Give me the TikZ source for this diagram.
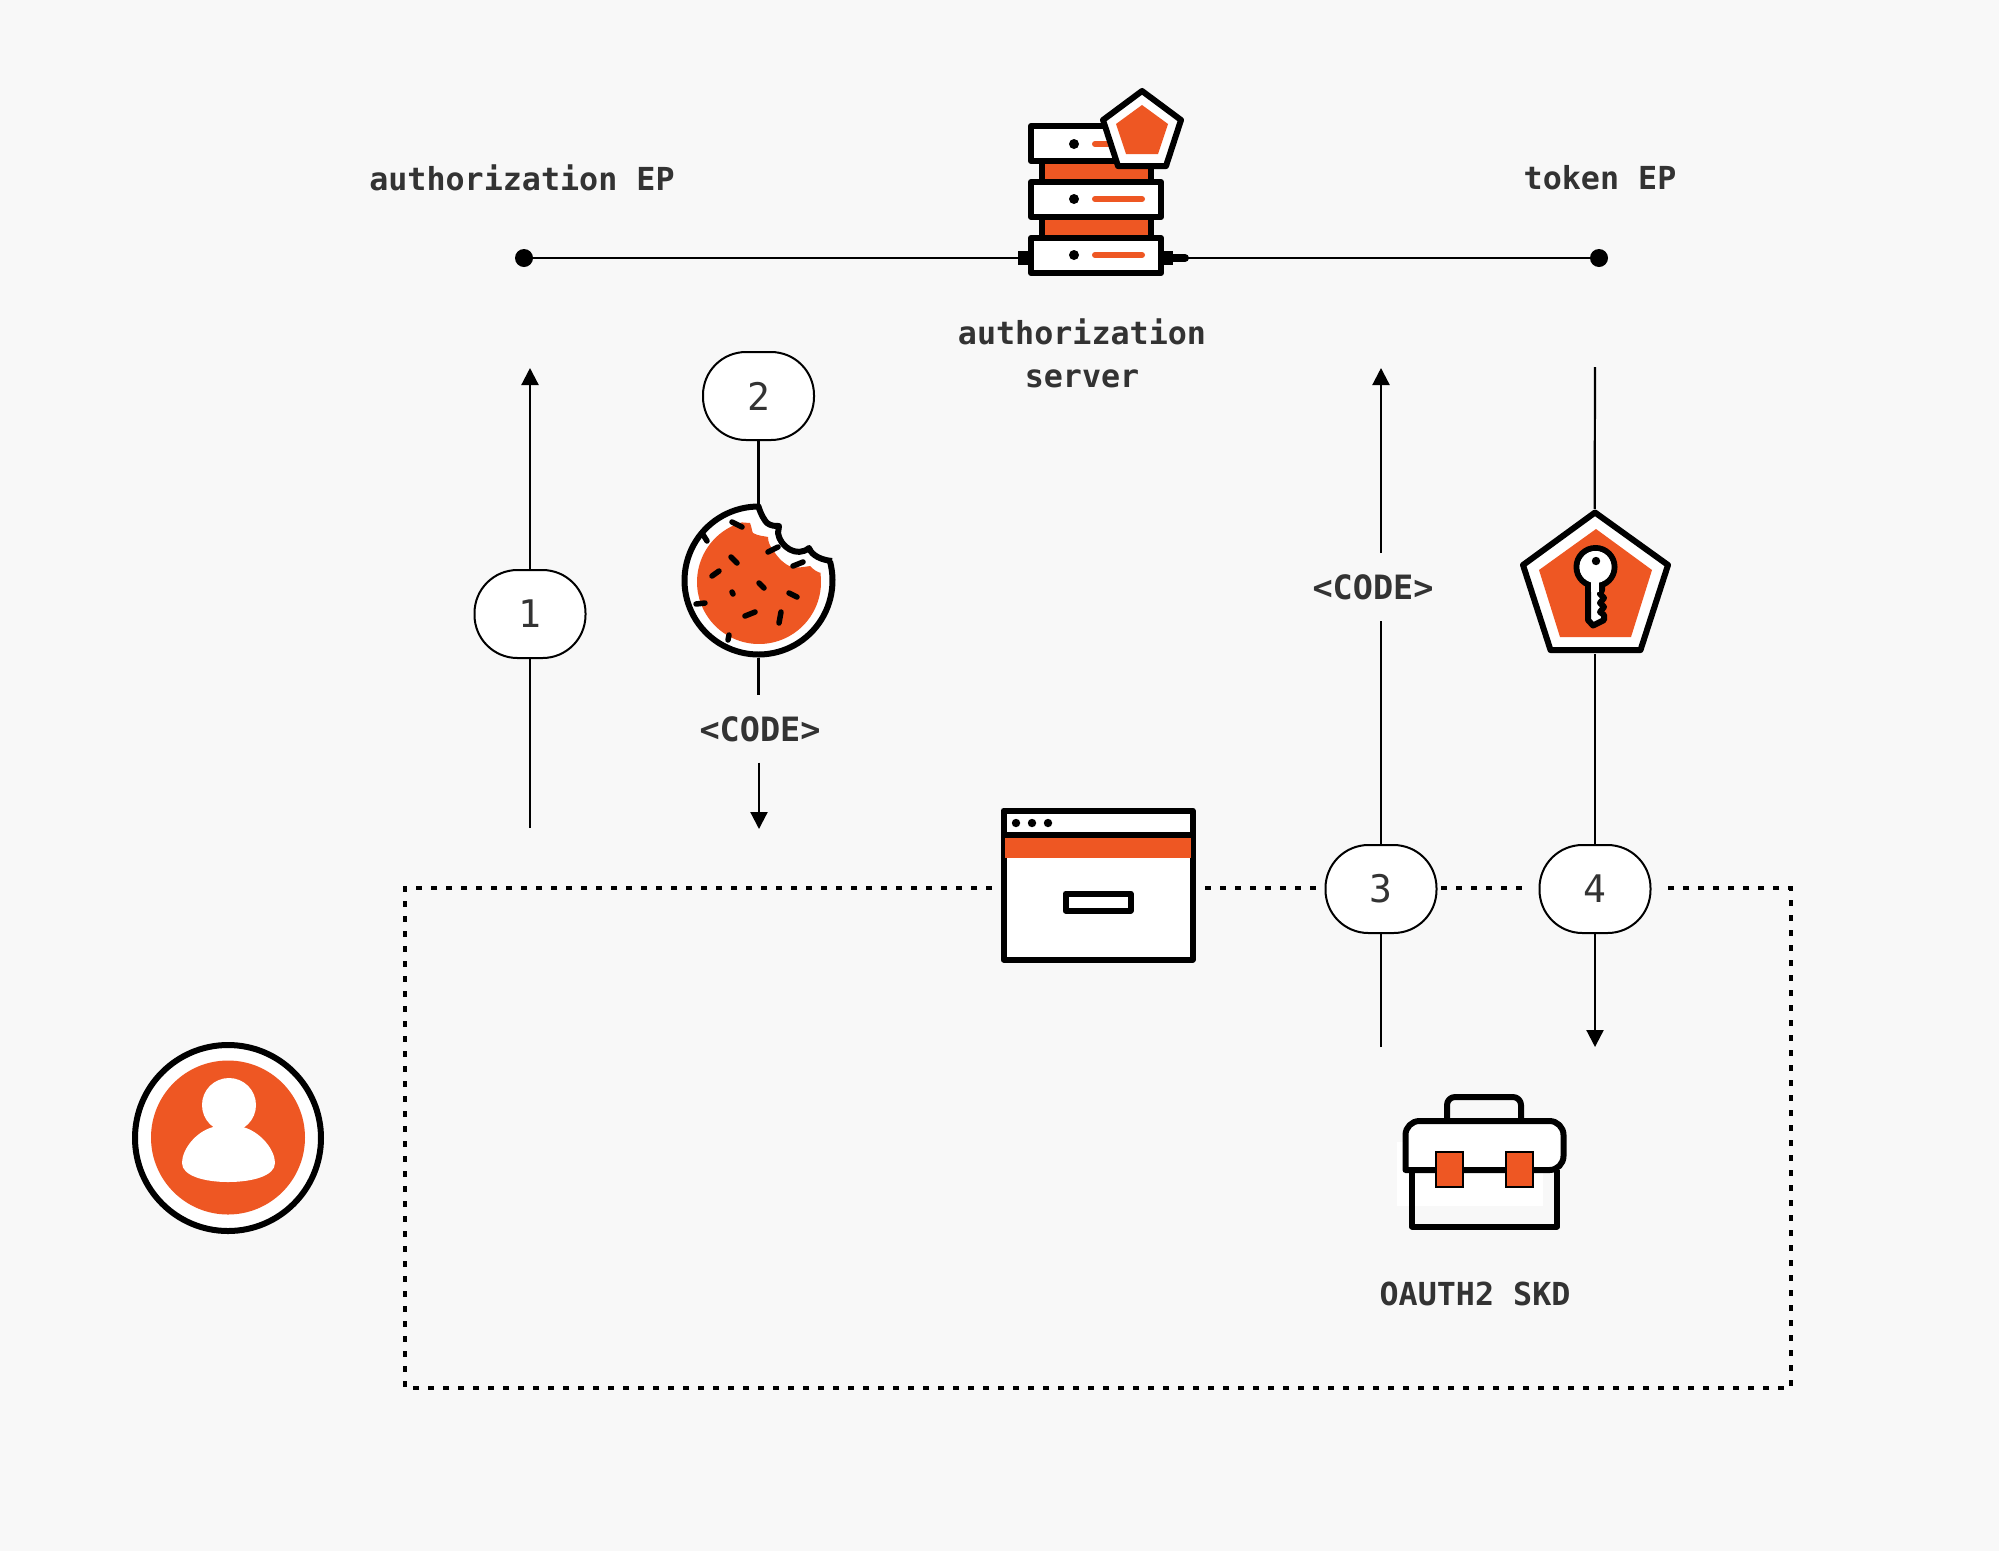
\documentclass[tikz,border=0pt]{standalone}
\usepackage{fontspec}
\usetikzlibrary{arrows.meta}
\newfontfamily\monofont{DejaVu Sans Mono}
\definecolor{bggray}{HTML}{F8F8F8}
\definecolor{oauthorange}{HTML}{EE5723}
\definecolor{textgray}{HTML}{333333}
\tikzset{
  iconline/.style={draw=black,line width=6pt,line join=round},
  flowline/.style={draw=black,line width=2.2pt},
  flowarrow/.style={flowline,-{Triangle[length=17pt,width=17pt]}},
  stepnode/.style={draw=black,line width=2pt,fill=white,rounded corners=43pt,minimum width=111pt,minimum height=88pt,inner sep=0pt,text=textgray,font=\monofont\fontsize{38}{44}\selectfont},
  textnode/.style={inner sep=0pt,text=textgray,align=center,font=\monofont\bfseries\fontsize{31.7}{43}\selectfont},
  codenode/.style={textnode,minimum height=67pt,font=\monofont\bfseries\fontsize{33.5}{43}\selectfont},
  epdot/.style={circle,fill=black,inner sep=0pt,minimum size=18pt},
  iconbox/.style={inner sep=0pt},
  sprinkle/.style={draw=black,line width=5.5pt,line cap=round},
  dotline/.style={draw=black,line width=3.5pt,dash pattern=on 6pt off 9pt},
}
\begin{document}
\begin{tikzpicture}[x=1pt,y=-1pt]
  \useasboundingbox (0,0) rectangle (1999,1551);
  \fill[bggray] (0,0) rectangle (1999,1551);

  \node[textnode] (authlabel) at (522,178) {authorization EP};
  \node[textnode] (tokenlabel) at (1600,178) {token EP};
  \node[textnode] (serverlabel) at (1082,353) {authorization\\server};
  \node[textnode] (sdklabel) at (1475,1294) {OAUTH2 SKD};
  \node[epdot] (authep) at (524,258) {};
  \node[epdot] (tokenep) at (1599,258) {};

  % server
  \coordinate (serverleft) at (1018,258);
  \coordinate (serverright) at (1188,258);
  \draw[flowline] (authep) -- (serverleft);
  \draw[flowline] (serverright) -- (tokenep);
  \fill[black] (1018,251) rectangle (1028,265);
  \fill[black] (1164,251) rectangle (1173,265);
  \draw[black,line width=8pt,line cap=round] (1173,258) -- (1185,258);
  \foreach \y in {161,217}
    \draw[iconline,fill=oauthorange] (1041.5,\y) rectangle (1150.5,\y+21);
  \foreach \y/\z in {126/144,182/199,238/255}
  {
    \draw[iconline,fill=white] (1031,\y) rectangle (1161,\y+35);
    \fill[black] (1074,\z) circle (5pt);
    \draw[oauthorange,line width=6pt,line cap=round] (1095,\z) -- (1142,\z);
  }
  \draw[iconline,fill=white] (1142,91) -- (1181,120) -- (1166,166) -- (1118,166) -- (1103,120) -- cycle;
  \fill[oauthorange] (1142,105) -- (1168,124) -- (1158,154) -- (1126,154) -- (1116,124) -- cycle;

  % cookie
  \node[iconbox,circle,minimum size=153pt] (cookie) at (758.5,581) {};
  \draw[iconline,fill=white] plot[domain=-15:270,samples=80] ({758.5+74*cos(\x)},{580.5+74*sin(\x)})
    .. controls (761,515) and (765,521) .. (767,523)
    .. controls (771,526) and (775,526) .. (779,526)
    -- (778,533) .. controls (780,547) and (797,558) .. (809,548)
    .. controls (812,556) and (822,560) .. (832,561);
  \fill[oauthorange] plot[domain=-8:254,samples=80] ({759+62*cos(\x)},{582+62*sin(\x)})
    -- (750,523) .. controls (752,528) and (752,532) .. (753,533)
    .. controls (758,536) and (764,536) .. (768,537)
    .. controls (768,542) and (770,546) .. (773,550)
    .. controls (778,558) and (785,565) .. (792,567)
    .. controls (798,568) and (804,567) .. (810,566)
    .. controls (814,570) and (817,572) .. (821,573) -- cycle;
  \foreach \a/\b/\c/\d in {732/522/742/527,702/533/707/541,768/552/778/547,731/557/737/563,793/566/803/562,712/576/719/571,759/583/764/588,732/592/733/594,789/593/797/597,696/604/705/603,745/616/755/612,781/612/779/623,729/635/728/640}
    \draw[sprinkle] (\a,\b) -- (\c,\d);

  % key
  \node[iconbox,minimum width=153pt,minimum height=145pt] (keybox) at (1594.5,581.5) {};
  \draw[iconline,fill=white] (1595,512.5) -- (1668,565) -- (1640.5,650) -- (1550.5,650) -- (1523,565) -- cycle;
  \fill[oauthorange] (1596,529) -- (1652,570) -- (1631,637) -- (1560,637) -- (1539,570) -- cycle;
  \draw[iconline,fill=white] (1595.5,567) circle (19pt);
  \draw[iconline,fill=white] (1588,578) -- (1588,620) -- (1593,625.5) -- (1604,620) -- (1604,615) -- (1600,612) -- (1604,607) -- (1600,603) -- (1604,598) -- (1600,594) -- (1602,590) -- (1602,578) -- cycle;
  \fill[white] (1595.5,567) circle (16pt);
  \fill[white] (1591,578) rectangle (1599,592);
  \fill[black] (1596,561) circle (4.2pt);

  % browser
  \node[iconbox,minimum width=194pt,minimum height=154pt] (browser) at (1098,885) {};
  \draw[iconline,fill=white] (1003.5,810.5) rectangle (1192.5,959.5);
  \draw[iconline] (1003.5,835) -- (1192.5,835);
  \fill[oauthorange] (1005,838) rectangle (1191,858);
  \foreach \x in {1016,1032,1048}
    \fill[black] (\x,823) circle (4.2pt);
  \draw[iconline,fill=white] (1065.5,893.5) rectangle (1130.5,910.5);

  % user
  \node[iconbox,circle,minimum size=191pt] (user) at (228,1138) {};
  \draw[line width=6pt,draw=black,fill=white] (228,1138) circle (93pt);
  \fill[oauthorange] (228,1137.5) circle (77pt);
  \fill[white] (229,1105) circle (27pt);
  \fill[white] (213,1127) .. controls (195,1132) and (182,1150) .. (182,1163)
    .. controls (182,1176) and (205,1182) .. (228,1182)
    .. controls (252,1182) and (275,1176) .. (275,1163)
    .. controls (275,1150) and (261,1132) .. (243,1127) -- cycle;

  % toolbox
  \fill[white] (1397,1142) rectangle (1543,1206);
  \draw[iconline] (1412,1170) -- (1412,1226.5) -- (1557,1226.5) -- (1557,1170);
  \draw[iconline,rounded corners=8pt] (1447,1121) -- (1447,1097) -- (1521,1097) -- (1521,1121);
  \draw[iconline,fill=white,rounded corners=14pt] (1405.5,1170) -- (1405.5,1121) -- (1563.5,1121) -- (1563.5,1170) [sharp corners] -- cycle;
  \foreach \x in {1436,1506}
    \draw[draw=black,line width=1.5pt,fill=oauthorange] (\x,1152) rectangle (\x+27,1187);

  % flows
  \node[stepnode] (stepone) at (530,614) {1};
  \node[stepnode] (steptwo) at (758.5,396) {2};
  \node[stepnode] (stepthree) at (1381,889) {3};
  \node[stepnode] (stepfour) at (1595,889) {4};
  \node[codenode] (codetwo) at (760,729) {<CODE>};
  \node[codenode] (codethree) at (1373,587) {<CODE>};

  \coordinate (onestart) at (530,828);
  \coordinate (oneend) at (530,368);
  \coordinate (twoend) at (759,829);
  \coordinate (threestart) at (1381,1047);
  \coordinate (threeend) at (1381,368);
  \coordinate (threemid) at (1381,621);
  \coordinate (threetop) at (1381,553);
  \coordinate (fourstart) at (1595,367);
  \coordinate (fourmid) at (1595,654);
  \coordinate (fourend) at (1595,1047);

  \draw[flowline] (onestart) -- (stepone);
  \draw[flowarrow] (stepone) -- (oneend);
  \draw[flowline] (steptwo) -- (cookie);
  \draw[flowline] (cookie) -- (cookie |- codetwo.north);
  \draw[flowarrow] (twoend |- codetwo.south) -- (twoend);
  \draw[flowline] (threestart) -- (stepthree);
  \draw[flowline] (stepthree) -- (threemid);
  \draw[flowarrow] (threetop) -- (threeend);
  \draw[flowline] (fourstart) -- (keybox);
  \draw[flowline] (fourmid) -- (stepfour);
  \draw[flowarrow] (stepfour) -- (fourend);

  % dotted box
  \coordinate (dotcornera) at (405,888);
  \coordinate (dotcornerb) at (405,1388);
  \coordinate (dotcornerc) at (1791,1388);
  \coordinate (dotcornerd) at (1791,888);
  \draw[dotline] (992,888) -- (dotcornera) -- (dotcornerb) -- (dotcornerc) -- (dotcornerd) -- (1660,888);
  \draw[dotline] (1205,888) -- (1320,888);
  \draw[dotline] (1441,888) -- (1530,888);
\end{tikzpicture}
\end{document}
